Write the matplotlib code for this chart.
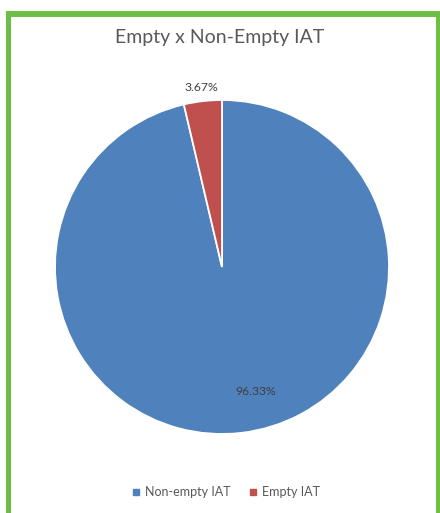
import matplotlib
matplotlib.use("Agg")
import matplotlib.pyplot as plt
from matplotlib.patches import Rectangle
from matplotlib.lines import Line2D
import numpy as np

categories = ["Non-empty IAT", "Empty IAT"]
values = [96.33, 3.67]
colors = ["#4F81BD", "#C0504D"]
title = "Empty x Non-Empty IAT"

W, H = 440, 513
fig = plt.figure(figsize=(W / 100, H / 100), dpi=100)
fig.patch.set_facecolor("white")
plt.rcParams['font.family'] = ['Lato', 'DejaVu Sans']

# green frame (left, top, right)
green = "#6CBE45"
def px_rect(x0, y0, w, h):
    fig.patches.append(Rectangle((x0 / W, 1 - (y0 + h) / H), w / W, h / H,
                                 transform=fig.transFigure, facecolor=green,
                                 edgecolor="none", zorder=0))
px_rect(6, 11, 434, 6)
px_rect(6, 11, 5, 502)
px_rect(436, 11, 4, 502)

cx, cy, r = 222, 267, 167
ax = fig.add_axes([(cx - r) / W, (H - cy - r) / H, 2 * r / W, 2 * r / H])
wedges, _ = ax.pie(values, colors=colors, startangle=90, counterclock=False,
                   wedgeprops=dict(edgecolor="white", linewidth=1.3))
ax.set_xlim(-1, 1)
ax.set_ylim(-1, 1)
ax.set_aspect("equal")
ax.axis("off")

# data labels
label_pos = [(-75, 0.77), (None, 1.08)]
for w, v, (ang, dist) in zip(wedges, values, label_pos):
    a = ang if ang is not None else (w.theta1 + w.theta2) / 2
    t = np.deg2rad(a)
    ax.text(dist * np.cos(t), dist * np.sin(t), f"{v:.2f}%", ha="center",
            va="center", fontsize=8.8, color="#404040")

fig.text(220 / W, 1 - 38 / H, title, ha="center", va="center",
         fontsize=14, color="#595959")

handles = [Line2D([], [], marker="s", linestyle="none", markersize=4.5,
                  markerfacecolor=c, markeredgecolor=c) for c in colors]
leg = fig.legend(handles, categories, loc="center", ncol=2,
                 bbox_to_anchor=(226 / W, 1 - 492 / H), frameon=False,
                 fontsize=9, handlelength=0.6, handletextpad=0.4,
                 columnspacing=1.5, labelcolor="#595959")

fig.savefig("out.png", dpi=100)
